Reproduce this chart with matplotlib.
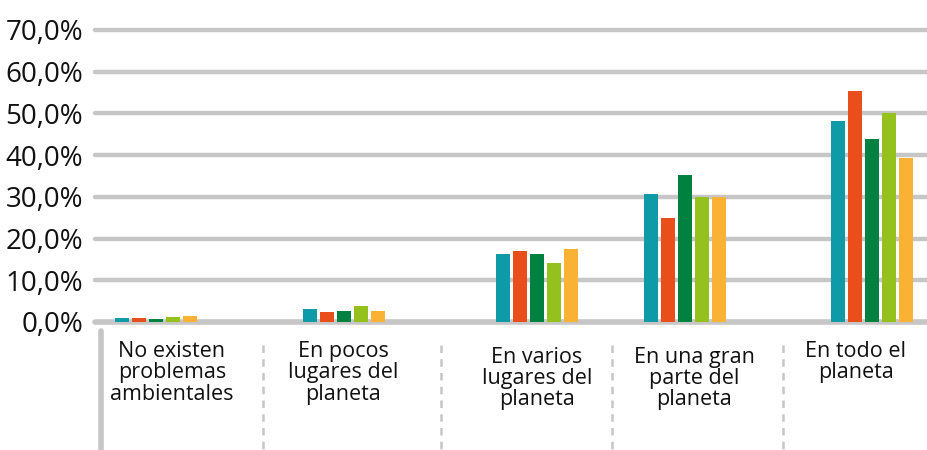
import matplotlib
matplotlib.use("Agg")
import matplotlib.pyplot as plt
from matplotlib.transforms import blended_transform_factory

categories = ["No existen\nproblemas\nambientales",
              "En pocos\nlugares del\nplaneta",
              "En varios\nlugares del\nplaneta",
              "En una gran\nparte del\nplaneta",
              "En todo el\nplaneta"]
series_names = ["Serie 1", "Serie 2", "Serie 3", "Serie 4", "Serie 5"]
s1 = [1.0, 3.2, 16.3, 30.8, 48.2]
s2 = [1.0, 2.5, 17.0, 24.9, 55.3]
s3 = [0.7, 2.7, 16.3, 35.3, 43.8]
s4 = [1.2, 3.9, 14.2, 30.0, 50.2]
s5 = [1.4, 2.7, 17.4, 30.0, 39.3]
yticks = [0, 10, 20, 30, 40, 50, 60, 70]
ytick_labels = ["0,0%", "10,0%", "20,0%", "30,0%", "40,0%", "50,0%", "60,0%", "70,0%"]

# layout (pixel-like units along x)
group_centers = [156, 344, 537, 685, 872]
label_centers = [172, 343, 537, 694, 856]
label_tops = [-0.065, -0.065, -0.085, -0.085, -0.065]
separators = [263, 441, 612, 783]
colors = ["#0e9aa7", "#e94e1b", "#008140", "#95c11f", "#f9b233"]
bar_w = 14
step = 17

fig = plt.figure(figsize=(9.28, 4.5), dpi=100)
ax = fig.add_axes([97 / 928, 128 / 450, 831 / 928, 292 / 450])
ax.set_xlim(97, 928)
ax.set_ylim(0, 70)

for y in yticks:
    lw = 4.0 if y == 0 else 3.2
    ax.plot([95, 928], [y, y], color="#c6c6c6", lw=lw, solid_capstyle="round",
            zorder=1, clip_on=False)

all_series = [s1, s2, s3, s4, s5]
for i, (vals, c, name) in enumerate(zip(all_series, colors, series_names)):
    xs = [g + (i - 2) * step for g in group_centers]
    ax.bar(xs, vals, width=bar_w, color=c, label=name, zorder=2)

ax.set_yticks(yticks)
ax.set_yticklabels(ytick_labels, fontsize=20, fontfamily="Open Sans", color="#111111")
ax.tick_params(axis="y", length=0, pad=10)
ax.set_xticks([])
for s in ax.spines.values():
    s.set_visible(False)

tr = blended_transform_factory(ax.transData, ax.transAxes)
ax.plot([101, 101], [-0.03, -0.44], color="#c6c6c6", lw=4, solid_capstyle="round",
        transform=tr, clip_on=False)
for xs in separators:
    ax.plot([xs, xs], [-0.08, -0.44], color="#c6c6c6", lw=1.8, ls=(0, (3, 2.5)),
            transform=tr, clip_on=False)

for xc, yt, lab in zip(label_centers, label_tops, categories):
    ax.text(xc, yt, lab, transform=tr, ha="center", va="top", fontsize=15.5,
            fontfamily="Open Sans", linespacing=1.02, color="#111111")

fig.savefig("out.png", dpi=100)
